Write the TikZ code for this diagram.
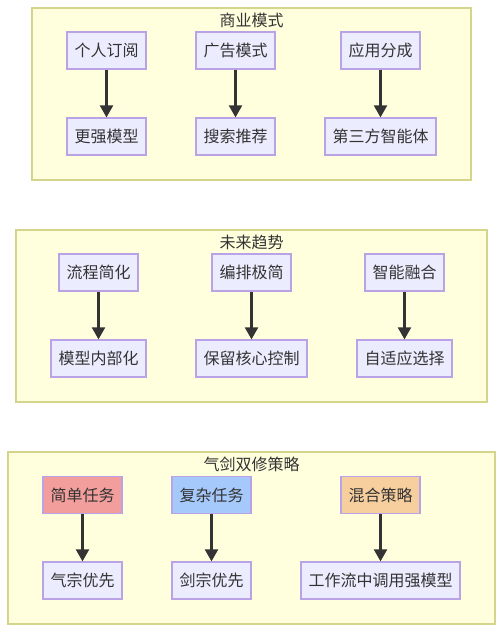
\documentclass[tikz,border=0pt]{standalone}
\usepackage{fontspec}
\setmainfont{Noto Sans CJK SC}
\usetikzlibrary{arrows.meta}
\definecolor{clfill}{HTML}{FFFFDE}
\definecolor{cldraw}{HTML}{D4D48A}
\definecolor{nfill}{HTML}{ECECFF}
\definecolor{ndraw}{HTML}{B9A3E6}
\definecolor{txt}{HTML}{333333}
\definecolor{redf}{HTML}{F29E9C}
\definecolor{bluef}{HTML}{A6C9FB}
\definecolor{orangef}{HTML}{F7CF9E}
\tikzset{
  cluster/.style={draw=cldraw, fill=clfill, line width=1.3pt},
  ctitle/.style={text=txt, font=\fontsize{16}{18}\selectfont, inner sep=0pt},
  box/.style={draw=ndraw, fill=nfill, line width=1.3pt, text=txt, font=\fontsize{16}{18}\selectfont, minimum height=37pt, inner sep=0pt, anchor=center},
  link/.style={draw=txt, line width=2.2pt, -{Triangle[length=12pt,width=13pt]}}
}
\begin{document}
\begin{tikzpicture}[x=1pt,y=-1pt]
\useasboundingbox (0,0) rectangle (503,632);
% cluster 1
\path[cluster] (32,8) rectangle (471,180);
\node[ctitle] (t1) at (251.5,20) {商业模式};
\node[box, minimum width=79pt] (a1) at (106.5,50.5) {个人订阅};
\node[box, minimum width=79pt] (a2) at (235.5,50.5) {广告模式};
\node[box, minimum width=79pt] (a3) at (380.5,50.5) {应用分成};
\node[box, minimum width=79pt] (b1) at (106.5,136.5) {更强模型};
\node[box, minimum width=79pt] (b2) at (235.5,136.5) {搜索推荐};
\node[box, minimum width=111pt] (b3) at (380.5,136.5) {第三方智能体};
\draw[link] (a1) -- (b1);
\draw[link] (a2) -- (b2);
\draw[link] (a3) -- (b3);
% cluster 2
\path[cluster] (16,230) rectangle (487,402);
\node[ctitle] (t2) at (251.5,242) {未来趋势};
\node[box, minimum width=79pt] (c1) at (98.5,272.5) {流程简化};
\node[box, minimum width=79pt] (c2) at (251.5,272.5) {编排极简};
\node[box, minimum width=79pt] (c3) at (404.5,272.5) {智能融合};
\node[box, minimum width=95pt] (d1) at (98.5,358.5) {模型内部化};
\node[box, minimum width=111pt] (d2) at (251.5,358.5) {保留核心控制};
\node[box, minimum width=95pt] (d3) at (404.5,358.5) {自适应选择};
\draw[link] (c1) -- (d1);
\draw[link] (c2) -- (d2);
\draw[link] (c3) -- (d3);
% cluster 3
\path[cluster] (8,452) rectangle (495,624);
\node[ctitle] (t3) at (251.5,464) {气剑双修策略};
\node[box, minimum width=79pt, fill=redf] (e1) at (82.5,495) {简单任务};
\node[box, minimum width=79pt, fill=bluef] (e2) at (211.5,495) {复杂任务};
\node[box, minimum width=79pt, fill=orangef] (e3) at (380.5,495) {混合策略};
\node[box, minimum width=79pt] (f1) at (82.5,580.5) {气宗优先};
\node[box, minimum width=79pt] (f2) at (211.5,580.5) {剑宗优先};
\node[box, minimum width=159pt] (f3) at (380.5,580.5) {工作流中调用强模型};
\draw[link] (e1) -- (f1);
\draw[link] (e2) -- (f2);
\draw[link] (e3) -- (f3);
\end{tikzpicture}
\end{document}
